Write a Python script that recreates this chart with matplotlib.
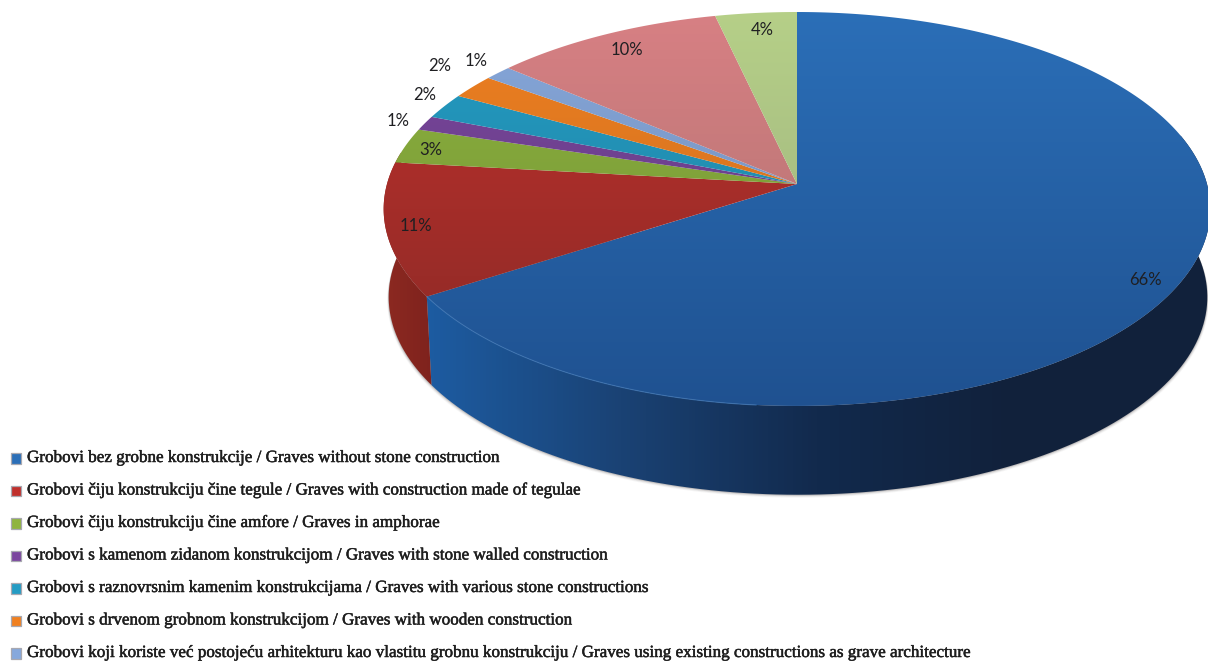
import numpy as np
import matplotlib
matplotlib.use("Agg")
import matplotlib.pyplot as plt
import matplotlib.patheffects as pe
from matplotlib.colors import LinearSegmentedColormap
from matplotlib.patches import Polygon, Rectangle

values = [65.9, 10.9, 2.9, 1.2, 2.1, 2.0, 1.2, 10.2, 3.6]
pct_labels = ["66%", "11%", "3%", "1%", "2%", "2%", "1%", "10%", "4%"]
legend_labels = [
    "Grobovi bez grobne konstrukcije / Graves without stone construction",
    "Grobovi čiju konstrukciju čine tegule / Graves with construction made of tegulae",
    "Grobovi čiju konstrukciju čine amfore / Graves in amphorae",
    "Grobovi s kamenom zidanom konstrukcijom / Graves with stone walled construction",
    "Grobovi s raznovrsnim kamenim konstrukcijama / Graves with various stone constructions",
    "Grobovi s drvenom grobnom konstrukcijom / Graves with wooden construction",
    "Grobovi koji koriste već postojeću arhitekturu kao vlastitu grobnu konstrukciju / Graves using existing constructions as grave architecture",
]

# top colours (far edge, near edge)
top_far = ["#2b6fb8", "#c0302c", "#8fb43f", "#7b469f", "#249cc4", "#f08020", "#86a8dc", "#d88084", "#b6d088"]
top_near = ["#1f5190", "#872a26", "#6d8c33", "#5c3a78", "#1f7d9a", "#c06a20", "#6f86ad", "#a8706c", "#98ab7c"]
side_cols = ["#1d5ca2", "#8c2a22"]
side_dark = "#11213b"

label_r = [0.927, 0.93, 0.93, 1.07, 1.08, 1.153, 1.096, 0.885, 0.888]
label_nudge = [1.7, 0, -0.7, -0.5, 1.8, 2.6, 0.8, 0.3, 0.4]

K = 0.1268


def project(theta, r=1.0, cx=797, cy=184, a=410, b=193.8):
    # theta in degrees, clockwise from 12 o'clock; far side is drawn smaller
    t = np.radians(theta)
    px = r * np.sin(t)
    py = r * np.cos(t)
    w = 1 + K * py
    return cx + a * px / w, cy - b * py / w


def project_bottom(theta):
    return project(theta, cx=798, cy=272, a=406, b=194.5)


def gradient_fill(ax, poly_xy, cols, extent, vertical=True, zorder=2):
    cmap = LinearSegmentedColormap.from_list("g", cols)
    ramp = np.linspace(0, 1, 256)
    grad = ramp.reshape(-1, 1) if vertical else ramp.reshape(1, -1)
    im = ax.imshow(grad, cmap=cmap, extent=extent, aspect="auto", origin="upper", zorder=zorder,
                   vmin=0, vmax=1)
    patch = Polygon(poly_xy, closed=True, transform=ax.transData, facecolor="none", edgecolor="none")
    ax.add_patch(patch)
    im.set_clip_path(patch)


fig = plt.figure(figsize=(12.08, 6.62), dpi=100)
ax = fig.add_axes([0, 0, 1, 1])

fracs = np.array(values) / np.sum(values)
edges = np.concatenate([[0], np.cumsum(fracs)]) * 360

# soft shadow under the lower rim
arc = np.linspace(85, 282, 200)
sx, sy = project_bottom(arc)
for off, al in [(3.0, 0.05), (2.2, 0.08), (1.4, 0.12), (0.7, 0.2)]:
    ax.add_patch(Polygon(np.column_stack([sx + off * np.sin(np.radians(arc)) * 0.5, sy + off]),
                         closed=True, facecolor="#555050", edgecolor="none", alpha=al, zorder=1))

# sides: only the blue and red slices show a rim
rim_blue = np.linspace(75, edges[1], 120)
x1, y1 = project(rim_blue)
x2, y2 = project_bottom(rim_blue)
poly = np.column_stack([np.r_[x1, x2[::-1]], np.r_[y1, y2[::-1]]])
gradient_fill(ax, poly, [side_cols[0], "#1a4274", "#122a4d", side_dark, side_dark],
              [425, 1210, 510, 0], vertical=False)

rim_red = np.linspace(edges[1], edges[2] + 3, 60)
x1, y1 = project(rim_red)
x2, y2 = project_bottom(rim_red)
poly = np.column_stack([np.r_[x1, x2[::-1]], np.r_[y1, y2[::-1]]])
gradient_fill(ax, poly, ["#8e2a22", "#7c211c"], [380, 440, 400, 150], vertical=False)

# top face
for i in range(len(values)):
    arc = np.linspace(edges[i], edges[i + 1], max(int(edges[i + 1] - edges[i]) * 2, 8))
    ex, ey = project(arc)
    cx0, cy0 = project(0.0, r=0.0)
    poly = np.column_stack([np.r_[cx0, ex], np.r_[cy0, ey]])
    gradient_fill(ax, poly, [top_far[i], top_near[i]], [370, 1215, 410, 8], zorder=3)
    mid = (edges[i] + edges[i + 1]) / 2 + label_nudge[i]
    lx, ly = project(mid, r=label_r[i])
    ax.text(lx, ly, pct_labels[i], fontsize=12, family="Lato", color="#1f1f22",
            ha="center", va="center", zorder=5)

# lighter rim line on the near blue edge
arc = np.linspace(185, edges[1], 60)
ex, ey = project(arc)
ax.plot(ex, ey, color="#3f78b8", lw=0.8, alpha=0.7, zorder=4)

# legend
legend_y = np.linspace(458, 653, len(legend_labels))
for i, lab in enumerate(legend_labels):
    ax.add_patch(Rectangle((10.5, legend_y[i] - 5), 10.5, 10.5, facecolor=top_far[i],
                           edgecolor="#a8a8b0", lw=0.9, zorder=3))
    ax.text(27, legend_y[i], lab, fontsize=12.3, family="Liberation Serif", color="#1e1e1e",
            ha="left", va="center", zorder=5,
            path_effects=[pe.withStroke(linewidth=0.35, foreground="#1e1e1e")])

ax.set_xlim(0, 1208)
ax.set_ylim(662, 0)
ax.axis("off")
fig.savefig("out.png", dpi=100, facecolor="white")
